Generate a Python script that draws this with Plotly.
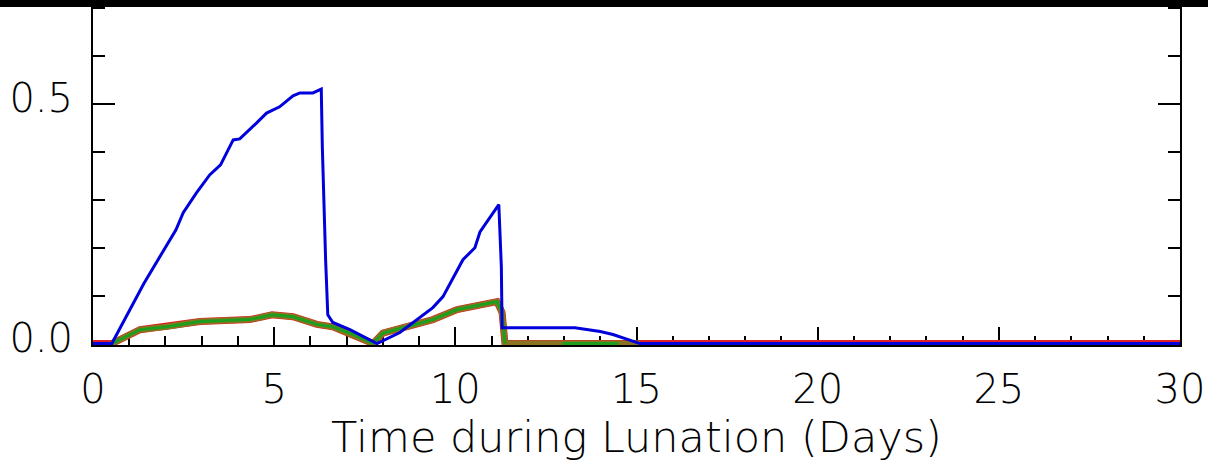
import plotly.graph_objects as go

# ---- data ----
day_blue = [0, 0.52, 1.4, 2.29, 2.49, 2.85, 3.22, 3.52, 3.87, 4.05, 4.51, 4.79, 5.15,
            5.52, 5.71, 6.07, 6.3, 6.33, 6.42, 6.48, 6.62, 7.09, 7.84, 8.47, 9.38,
            9.66, 10.21, 10.54, 10.68, 11.2, 11.27, 11.29, 13.3, 14.0, 14.35, 15.1, 30]
val_blue = [0, 0, 0.125, 0.2375, 0.273, 0.314, 0.352, 0.373, 0.425, 0.427, 0.46, 0.481, 0.494,
            0.517, 0.523, 0.523, 0.531, 0.408, 0.175, 0.06, 0.044, 0.029, 0.0, 0.023, 0.075,
            0.098, 0.175, 0.2, 0.233, 0.29, 0.16, 0.033, 0.033, 0.025, 0.019, 0.0, 0.0]

day_low = [0.52, 1.3, 2.04, 2.95, 4.33, 4.94, 5.52, 6.18, 6.62, 7.18, 7.73, 8.0, 8.67,
           9.38, 10.05, 10.68, 11.15, 11.29, 11.37, 12.95, 14.5, 15.1]
val_brown = [0, 0.029, 0.035, 0.046, 0.05, 0.06, 0.056, 0.04, 0.035, 0.019, 0.0, 0.022, 0.035,
             0.05, 0.071, 0.081, 0.0875, 0.065, 0.0, 0.0, 0.0, 0.0]
val_green = [0, 0.029, 0.035, 0.046, 0.05, 0.06, 0.056, 0.04, 0.035, 0.019, 0.0, 0.022, 0.035,
             0.05, 0.071, 0.081, 0.0875, 0.065, 0.0, None, 0.0, None]
day_green_extra = [12.95, 14.5]
val_green_extra = [0.0, 0.0]

day_red = [0] + day_low + [30]
val_red = [0] + val_brown + [0]

x_ticks_major = 5
y_ticks_major = 0.5

fig = go.Figure()
fig.add_trace(go.Scatter(x=day_red, y=val_red, mode="lines",
                         line=dict(color="#e02020", width=7), showlegend=False))
fig.add_trace(go.Scatter(x=day_low, y=val_brown, mode="lines",
                         line=dict(color="#8a7420", width=6), showlegend=False))
fig.add_trace(go.Scatter(x=day_low, y=val_green, mode="lines", connectgaps=False,
                         line=dict(color="#1e9e1e", width=3), showlegend=False))
fig.add_trace(go.Scatter(x=day_green_extra, y=val_green_extra, mode="lines",
                         line=dict(color="#1e9e1e", width=3), showlegend=False))
fig.add_trace(go.Scatter(x=day_blue, y=val_blue, mode="lines",
                         line=dict(color="#0000dc", width=3), showlegend=False))

font = dict(family="DejaVu Sans", size=40, color="black", weight=200)
title_font = dict(family="DejaVu Sans", size=43, color="black", weight=200)

fig.update_layout(
    width=1208, height=462,
    margin=dict(l=93, r=28, t=0, b=117),
    paper_bgcolor="white", plot_bgcolor="white",
    font=font,
    shapes=[dict(type="rect", xref="paper", yref="paper", x0=-0.2, x1=1.2,
                 y0=1 - 7 / 345, y1=1.05, fillcolor="black", line_width=0, layer="above")],
)
fig.update_xaxes(
    range=[0, 30], tickmode="linear", tick0=0, dtick=x_ticks_major,
    ticks="inside", ticklen=18, tickwidth=2, tickcolor="black",
    minor=dict(dtick=1, tick0=0, ticks="inside", ticklen=9, tickwidth=2, tickcolor="black"),
    showline=True, linewidth=2, linecolor="black", mirror=False,
    showgrid=False, zeroline=False, layer="below traces",
    ticklabelstandoff=8, tickfont=font,
    title=dict(text="Time during Lunation (Days)", font=title_font, standoff=2),
)
fig.update_yaxes(
    range=[-0.003, 0.717], tickmode="linear", tick0=0, dtick=y_ticks_major, tickformat=".1f",
    ticks="inside", ticklen=22, tickwidth=2, tickcolor="black",
    minor=dict(dtick=0.1, tick0=0, ticks="inside", ticklen=12, tickwidth=2, tickcolor="black"),
    showline=True, linewidth=2, linecolor="black", mirror="ticks",
    showgrid=False, zeroline=False, layer="below traces",
    ticklabelstandoff=10, ticklabelshift=-6, tickfont=font,
)

fig.write_html("out.html")
